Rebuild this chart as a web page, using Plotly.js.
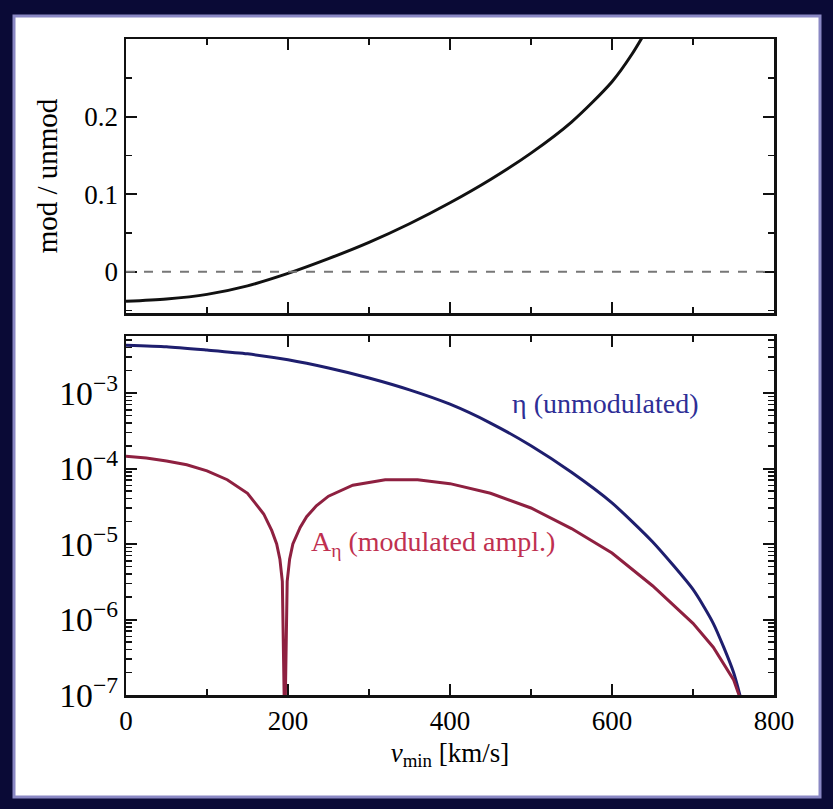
<!DOCTYPE html>
<html>
<head>
<meta charset="utf-8">
<script src="https://cdn.plot.ly/plotly-3.0.1.min.js"></script>
<style>html,body{margin:0;padding:0;background:#0a0a36;}#chart{width:833px;height:809px;}</style>
</head>
<body>
<div id="chart"></div>
<script>
// ---- data ----
// top panel: ratio modulated / unmodulated vs v_min
const vRatio = [0, 50, 100, 150, 200, 250, 300, 350, 400, 450, 500, 550, 600, 625, 650];
const ratio  = [-0.038, -0.035, -0.029, -0.018, -0.002, 0.017, 0.038, 0.062, 0.089, 0.119, 0.153, 0.193, 0.245, 0.281, 0.325];
const ratioTicks = [0, 0.1, 0.2];

// bottom panel: eta (unmodulated)
const vEta = [0, 50, 100, 150, 200, 250, 300, 350, 400, 450, 500, 550, 600, 650, 700, 725, 750, 765];
const eta  = [4.3e-3, 4.1e-3, 3.7e-3, 3.3e-3, 2.75e-3, 2.14e-3, 1.58e-3, 1.10e-3, 7.1e-4, 4.0e-4, 2.0e-4, 8.9e-5, 3.5e-5, 1.07e-5, 2.5e-6, 8.9e-7, 2.0e-7, 5e-8];

// bottom panel: A_eta (modulated amplitude, absolute value)
const vAmp = [0, 25, 50, 75, 100, 125, 150, 170, 180, 186, 190, 193, 196, 199, 202, 206, 215, 223, 235, 250, 280, 320, 360, 400, 450, 500, 550, 600, 650, 700, 725, 750, 760];
const amp  = [1.45e-4, 1.38e-4, 1.26e-4, 1.12e-4, 9.3e-5, 7.1e-5, 4.7e-5, 2.5e-5, 1.5e-5, 1.0e-5, 6.3e-6, 3.2e-6, 3e-8, 3.2e-6, 6.3e-6, 1.0e-5, 1.66e-5, 2.3e-5, 3.2e-5, 4.3e-5, 6.0e-5, 7.1e-5, 7.1e-5, 6.3e-5, 4.7e-5, 3.0e-5, 1.6e-5, 7.6e-6, 2.8e-6, 8.9e-7, 4.3e-7, 1.6e-7, 8e-8];

const xRange = [0, 800];
const ratioRange = [-0.053, 0.3];
const logRange = [-7, -2.245];

const W = 833, H = 809;
const px = v => v / W;
const py = v => 1 - v / H;

const FONT = '"Liberation Serif", "Times New Roman", serif';
const tickFont = {family: FONT, size: 27, color: '#000'};

const commonAxis = {
  showline: true, linecolor: '#111', linewidth: 2.5, mirror: 'allticks',
  ticks: 'inside', ticklen: 11, tickwidth: 2, tickcolor: '#111',
  showgrid: false, zeroline: false, tickfont: tickFont
};

const traces = [
  {x: vRatio, y: ratio, xaxis: 'x', yaxis: 'y', mode: 'lines', type: 'scatter',
   line: {color: '#111', width: 3, shape: 'spline', smoothing: 0.8}, hoverinfo: 'skip'},
  {x: vEta, y: eta, xaxis: 'x2', yaxis: 'y2', mode: 'lines', type: 'scatter',
   line: {color: '#1e1e6e', width: 3, shape: 'spline', smoothing: 0.6}, hoverinfo: 'skip'},
  {x: vAmp, y: amp, xaxis: 'x2', yaxis: 'y2', mode: 'lines', type: 'scatter',
   line: {color: '#8e2040', width: 3}, hoverinfo: 'skip'}
];

const xDom = [px(126), px(774)];

const layout = {
  width: W, height: H,
  margin: {l: 0, r: 0, t: 0, b: 0},
  paper_bgcolor: '#0a0a36',
  plot_bgcolor: '#ffffff',
  showlegend: false,
  xaxis: Object.assign({}, commonAxis, {
    domain: xDom, anchor: 'y', range: xRange, dtick: 200, tick0: 0,
    showticklabels: false,
    minor: {ticks: 'inside', dtick: 100, ticklen: 6, tickwidth: 1.5, tickcolor: '#111'}
  }),
  yaxis: Object.assign({}, commonAxis, {
    domain: [py(313), py(39)], anchor: 'x', range: ratioRange,
    tickmode: 'array', tickvals: ratioTicks, ticktext: ratioTicks.map(String),
    minor: {ticks: 'inside', dtick: 0.05, tick0: 0, ticklen: 6, tickwidth: 1.5, tickcolor: '#111'},
    title: {text: 'mod / unmod', font: {family: FONT, size: 29, color: '#000'}, standoff: 18}
  }),
  xaxis2: Object.assign({}, commonAxis, {
    domain: xDom, anchor: 'y2', range: xRange, dtick: 200, tick0: 0,
    minor: {ticks: 'inside', dtick: 100, ticklen: 6, tickwidth: 1.5, tickcolor: '#111'},
    title: {text: '<i>v</i><sub>min</sub> [km/s]', font: {family: FONT, size: 27, color: '#000'}, standoff: 8}
  }),
  yaxis2: Object.assign({}, commonAxis, {
    domain: [py(695), py(336)], anchor: 'x2', type: 'log', range: logRange, dtick: 1,
    exponentformat: 'power',
    minor: {ticks: 'inside', dtick: 'D1', ticklen: 6, tickwidth: 1.5, tickcolor: '#111'}
  }),
  shapes: [
    {type: 'rect', xref: 'paper', yref: 'paper', x0: px(14), x1: px(820), y0: py(797), y1: py(16),
     fillcolor: '#ffffff', line: {color: '#8a88c4', width: 3}, layer: 'below'},
    {type: 'line', xref: 'x', yref: 'y', x0: xRange[0], x1: xRange[1], y0: 0, y1: 0,
     line: {color: '#777', width: 2, dash: 'dash'}}
  ],
  annotations: [
    {xref: 'paper', yref: 'paper', x: px(605), y: py(403), xanchor: 'center', yanchor: 'middle', showarrow: false,
     text: 'η (unmodulated)', font: {family: FONT, size: 28, color: '#2e2e96'}},
    {xref: 'paper', yref: 'paper', x: px(433), y: py(543), xanchor: 'center', yanchor: 'middle', showarrow: false,
     text: 'A<sub>η</sub> (modulated ampl.)', font: {family: FONT, size: 28, color: '#c03050'}}
  ]
};

Plotly.newPlot('chart', traces, layout, {staticPlot: true, displayModeBar: false});
</script>
</body>
</html>
